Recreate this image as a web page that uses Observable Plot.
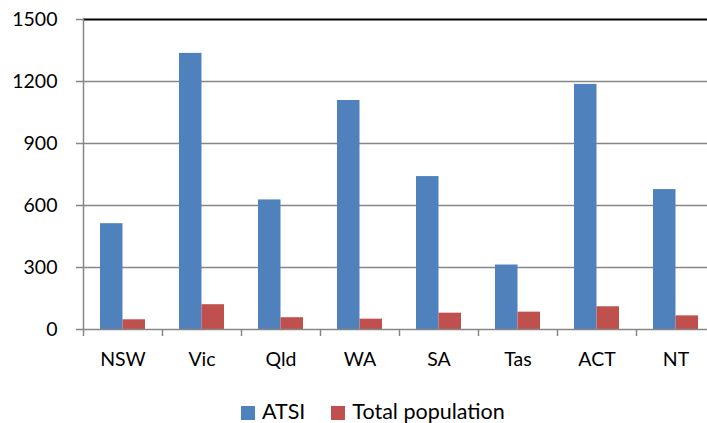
<!DOCTYPE html>
<html>
<head>
<meta charset="utf-8">
<script src="https://cdn.jsdelivr.net/npm/d3@7"></script>
<script src="https://cdn.jsdelivr.net/npm/@observablehq/plot@0.6"></script>
<style>
  html, body { margin: 0; padding: 0; background: #fff; }
  body { width: 707px; height: 423px; overflow: hidden; position: relative; font-family: Lato, sans-serif; }
  #legend { position: absolute; left: 241px; top: 401px; height: 22px; display: flex; align-items: center; font-size: 21.5px; line-height: 1; color: #000; }
  #legend .sw { width: 14px; height: 14px; margin-right: 7px; margin-top: 2px; }
  #legend .item { display: flex; align-items: center; margin-right: 26px; line-height: 1; }
</style>
</head>
<body>
<div id="chart"></div>
<div id="legend"></div>
<script>
const states = ["NSW", "Vic", "Qld", "WA", "SA", "Tas", "ACT", "NT"];
const atsi = [512, 1336, 627, 1108, 740, 312, 1186, 677];
const totalPopulation = [47, 120, 57, 50, 79, 84, 110, 66];
const yTicks = [0, 300, 600, 900, 1200, 1500];
const seriesNames = ["ATSI", "Total population"];
const seriesColors = ["#4F81BD", "#C0504D"];

const gray = "#868686";

const chart = Plot.plot({
  width: 707,
  height: 385,
  marginLeft: 83,
  marginRight: -8,
  marginTop: 19,
  marginBottom: 56,
  style: { fontFamily: "Lato, sans-serif", fontSize: "19.5px", color: "#000", background: "#fff" },
  x: { domain: states, padding: 0, round: false, axis: null },
  y: { domain: [0, 1500], axis: null },
  marks: [
    Plot.ruleY(yTicks.filter(t => t > 0 && t < 1500), { stroke: gray, strokeWidth: 1.5 }),
    Plot.barY(states, { x: d => d, y: (d, i) => atsi[i], fill: seriesColors[0], insetLeft: 17, insetRight: 39.5 }),
    Plot.barY(states, { x: d => d, y: (d, i) => totalPopulation[i], fill: seriesColors[1], insetLeft: 39.5, insetRight: 17 }),
    Plot.ruleY([1500], { stroke: "#000", strokeWidth: 2 }),
    Plot.ruleY([0], { stroke: gray, strokeWidth: 1.5 }),
    Plot.ruleX(states.slice(1), { x: d => d, dx: -39.5, y1: 0, y2: 0, insetBottom: -7, stroke: gray, strokeWidth: 1.5 }),
    Plot.ruleX(states.slice(0, 1), { x: d => d, dx: -39.5, y1: 1500, y2: 0, insetBottom: -7, stroke: gray, strokeWidth: 1.5 }),
    Plot.axisY({ ticks: yTicks, tickSize: 7, tickPadding: 19, tickFormat: d => String(d), stroke: gray, strokeWidth: 1.5, fill: "#000", fontSize: 19.5 }),
    Plot.axisX({ tickSize: 0, tickPadding: 23, fill: "#000", fontSize: 19.5 })
  ]
});
document.getElementById("chart").appendChild(chart);

const legend = document.getElementById("legend");
seriesNames.forEach((name, i) => {
  const item = document.createElement("div");
  item.className = "item";
  const sw = document.createElement("div");
  sw.className = "sw";
  sw.style.background = seriesColors[i];
  const label = document.createElement("span");
  label.textContent = name;
  item.appendChild(sw);
  item.appendChild(label);
  legend.appendChild(item);
});
</script>
</body>
</html>
